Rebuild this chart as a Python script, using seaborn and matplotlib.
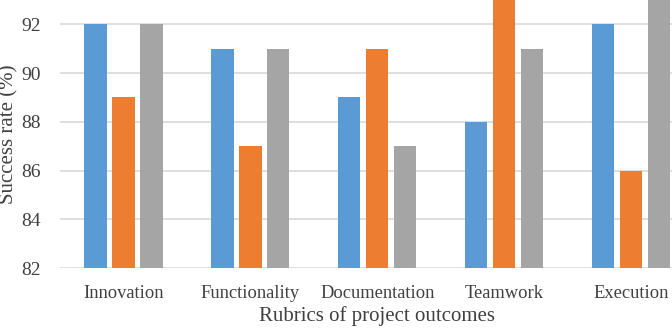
import matplotlib
matplotlib.use("Agg")
import matplotlib.pyplot as plt
import seaborn as sns
import pandas as pd

# Values (two bars run past the top of the axis)
categories = ["Innovation", "Functionality", "Documentation", "Teamwork", "Execution"]
series_names = ["Series 1", "Series 2", "Series 3"]
series_1 = [92, 91, 89, 88, 92]
series_2 = [89, 87, 91, 94, 86]
series_3 = [92, 91, 87, 91, 94]
colors = ["#5B9BD5", "#ED7D31", "#A5A5A5"]

df = pd.DataFrame({
    "rubric": categories * 3,
    "series": [s for s in series_names for _ in categories],
    "rate": series_1 + series_2 + series_3,
})

sns.set_style("white")
plt.rcParams["font.family"] = ["Liberation Serif", "DejaVu Serif"]

fig = plt.figure(figsize=(6.72, 3.32), dpi=100)
ax = fig.add_axes([60 / 672, 64 / 332, 634.5 / 672, 268 / 332])

sns.barplot(data=df, x="rubric", y="rate", hue="series", palette=colors,
            saturation=1, width=0.66, gap=0.2, linewidth=0,
            legend=False, ax=ax, zorder=3)

ax.set_ylim(82, 93)
ax.set_yticks(range(82, 93, 2))
ax.yaxis.grid(True, color="#D9D9D9", linewidth=1.2, zorder=0)
ax.set_axisbelow(True)
for s in ax.spines.values():
    s.set_visible(False)
ax.tick_params(axis="x", length=0, labelsize=13.3, colors="#404040", pad=12)
ax.tick_params(axis="y", length=0, labelsize=14, colors="#404040", pad=14)
ax.set_xlabel("Rubrics of project outcomes", fontsize=15, color="#404040", labelpad=3)
ax.set_ylabel("Success rate (%)", fontsize=15, color="#404040", labelpad=2)

fig.savefig("out.png", dpi=100)
